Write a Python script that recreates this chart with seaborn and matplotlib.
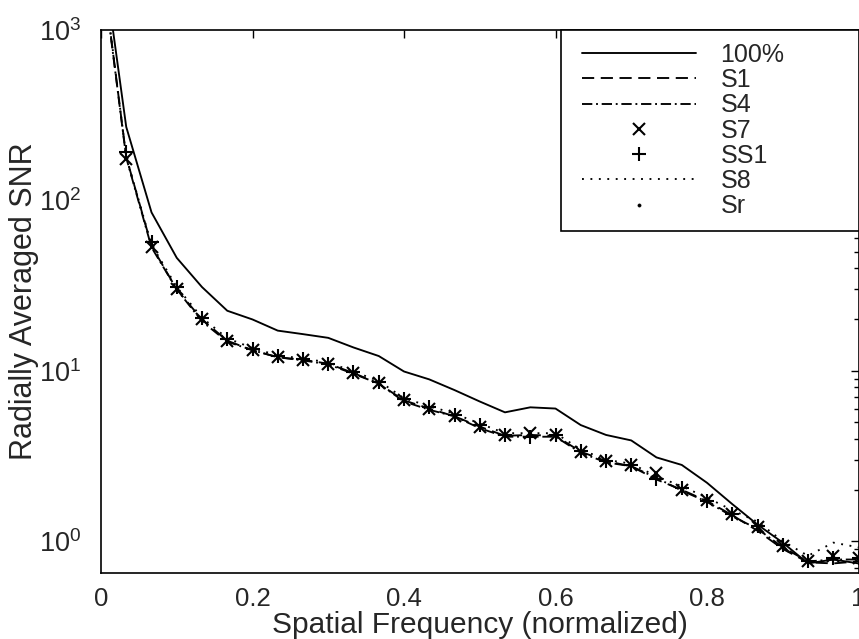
import matplotlib
matplotlib.use("Agg")
import matplotlib.pyplot as plt
import seaborn as sns
import numpy as np
from matplotlib.legend_handler import HandlerLine2D
from matplotlib.ticker import FixedLocator, FuncFormatter, LogLocator

# ---------------- data ----------------
freq = [0.0, 0.0333, 0.0667, 0.1, 0.1333, 0.1667, 0.2, 0.2333, 0.2667, 0.3,
        0.3333, 0.3667, 0.4, 0.4333, 0.4667, 0.5, 0.5333, 0.5667, 0.6, 0.6333,
        0.6667, 0.7, 0.7333, 0.7667, 0.8, 0.8333, 0.8667, 0.9, 0.9333, 0.9667, 1.0]

snr_100 = [3250, 270, 85, 46, 31, 22.5, 20, 17.2, 16.4, 15.6, 13.7, 12.2, 9.9, 8.9,
           7.7, 6.6, 5.7, 6.1, 6.0, 4.8, 4.2, 3.9, 3.1, 2.8, 2.2, 1.65, 1.25, 0.98,
           0.74, 0.78, 0.74]
snr_s1 = [2650, 180, 54, 30, 20, 15, 13.2, 12.0, 11.6, 11.0, 9.7, 8.4, 6.7, 6.0,
          5.4, 4.7, 4.15, 4.2, 4.15, 3.35, 2.95, 2.75, 2.3, 2.0, 1.72, 1.42, 1.15,
          0.9, 0.75, 0.74, 0.76]
snr_s4 = [2600, 178, 53, 30, 19.5, 14.8, 13.2, 12.0, 11.5, 10.9, 9.6, 8.4, 6.6, 5.9,
          5.4, 4.6, 4.1, 4.1, 4.1, 3.3, 2.9, 2.75, 2.35, 1.98, 1.7, 1.4, 1.18, 0.92,
          0.76, 0.78, 0.78]
snr_s7 = [2650, 175, 53, 30, 20, 15, 13.3, 12.1, 11.6, 11.0, 9.7, 8.5, 6.7, 6.0,
          5.4, 4.7, 4.2, 4.3, 4.2, 3.35, 2.95, 2.8, 2.5, 2.0, 1.74, 1.45, 1.21,
          0.93, 0.76, 0.82, 0.8]
snr_ss1 = [2700, 192, 57, 31, 20.5, 15.3, 13.5, 12.2, 11.7, 11.0, 9.8, 8.6, 6.8, 6.1,
           5.5, 4.8, 4.2, 4.1, 4.2, 3.4, 2.95, 2.8, 2.3, 2.05, 1.72, 1.45, 1.22,
           0.95, 0.76, 0.8, 0.8]
snr_s8 = [2700, 180, 55, 31, 20.5, 15.5, 13.6, 12.3, 11.8, 11.2, 9.9, 8.7, 6.9, 6.2,
          5.6, 4.9, 4.3, 4.3, 4.3, 3.45, 3.0, 2.85, 2.4, 2.1, 1.8, 1.52, 1.3, 1.0,
          0.82, 0.98, 0.92]
snr_sr = [2650, 178, 54, 30, 20, 15.1, 13.3, 12.1, 11.6, 11.0, 9.7, 8.5, 6.7, 6.0,
          5.4, 4.7, 4.2, 4.2, 4.2, 3.35, 2.95, 2.8, 2.4, 2.0, 1.73, 1.44, 1.2,
          0.93, 0.76, 0.8, 0.8]

labels = ["100%", "S1", "S4", "S7", "SS1", "S8", "Sr"]
x_ticks = [0, 0.2, 0.4, 0.6, 0.8, 1.0]
x_tick_labels = ["0", "0.2", "0.4", "0.6", "0.8", "1"]

# ---------------- style ----------------
sns.set_style("white")
plt.rcParams["font.family"] = ["Liberation Sans", "DejaVu Sans"]
plt.rcParams["mathtext.fontset"] = "custom"
plt.rcParams["mathtext.rm"] = "Liberation Sans"
plt.rcParams["mathtext.it"] = "Liberation Sans:italic"
plt.rcParams["mathtext.bf"] = "Liberation Sans:bold"

W, H = 859, 639
fig = plt.figure(figsize=(W / 100, H / 100), dpi=100)
AX_L, AX_R = 101, 858.5
ax = fig.add_axes([AX_L / W, 1 - 573 / H, (AX_R - AX_L) / W, (573 - 30) / H])

LW = 1.35
series = [
    (snr_100, labels[0], dict(linestyle="-", linewidth=LW)),
    (snr_s1, labels[1], dict(linestyle=(0, (6.5, 3.5)), linewidth=LW)),
    (snr_s4, labels[2], dict(linestyle=(0, (5.5, 2, 1, 2)), linewidth=LW)),
    (snr_s7, labels[3], dict(linestyle="none", marker="x", markersize=8.5,
                             markeredgewidth=1.5, markeredgecolor="black")),
    (snr_ss1, labels[4], dict(linestyle="none", marker="+", markersize=9.5,
                              markeredgewidth=1.5, markeredgecolor="black")),
    (snr_s8, labels[5], dict(linestyle=(0, (1, 3.5)), linewidth=LW)),
    (snr_sr, labels[6], dict(linestyle="none", marker=".", markersize=4.5,
                             markeredgewidth=0.5, markeredgecolor="black")),
]

for vals, lab, kw in series:
    sns.lineplot(x=freq, y=vals, ax=ax, color="black", label=lab,
                 sort=False, estimator=None, **kw)

ax.set_yscale("log")
ax.set_xlim(0, 1)
ax.set_ylim(0.65, 1000)

ax.xaxis.set_major_locator(FixedLocator(x_ticks))
ax.xaxis.set_major_formatter(FuncFormatter(
    lambda v, p: x_tick_labels[x_ticks.index(round(v, 1))] if round(v, 1) in x_ticks else ""))
ax.xaxis.set_minor_locator(FixedLocator([]))
ax.yaxis.set_major_locator(LogLocator(base=10, numticks=10))
ax.yaxis.set_minor_locator(LogLocator(base=10, subs=np.arange(2, 10), numticks=20))

for s in ax.spines.values():
    s.set_linewidth(1.2)
    s.set_color("black")

ax.tick_params(axis="both", which="both", direction="in", top=True, right=True,
               color="black", width=1.0)
ax.tick_params(axis="both", which="major", length=6)
ax.tick_params(axis="both", which="minor", length=3.5)
ax.tick_params(axis="x", which="major", pad=10, labelsize=18.5)
ax.tick_params(axis="y", which="major", pad=14, labelsize=19.5)

ax.set_xlabel("Spatial Frequency (normalized)", fontsize=21.5, labelpad=0)
ax.set_ylabel("Radially Averaged SNR", fontsize=22, labelpad=0)
ax.yaxis.set_label_coords(-(AX_L - 39) / (AX_R - AX_L), 0.5)


class PaddedHandler(HandlerLine2D):
    def __init__(self, marker_frac=None, **kw):
        super().__init__(**kw)
        self.marker_frac = marker_frac

    def get_xdata(self, legend, xdescent, ydescent, width, height, fontsize):
        xd = [-xdescent, -xdescent + width]
        if self.marker_frac is None:
            return xd, [-xdescent + 0.5 * width]
        return xd, [-xdescent + self.marker_frac * width]


handles, labs = ax.get_legend_handles_labels()
hmap = {}
for h in handles:
    if h.get_linestyle() in ("None", "none", ""):
        hmap[h] = PaddedHandler(marker_frac=0.3, xpad=0.3)
    else:
        hmap[h] = PaddedHandler(xpad=0.3)

x0 = (561 - AX_L) / (AX_R - AX_L)
leg = ax.legend(handles, labs, loc="upper left", bbox_to_anchor=(x0, 1.0, 1 - x0, 0),
                mode="expand", borderaxespad=0, fontsize=18, handlelength=4.86,
                handletextpad=1.0, labelspacing=0.05, borderpad=0.52,
                fancybox=False, edgecolor="black", framealpha=1,
                handler_map=hmap)
leg.get_frame().set_linewidth(1.2)

fig.savefig("out.png", dpi=100)
